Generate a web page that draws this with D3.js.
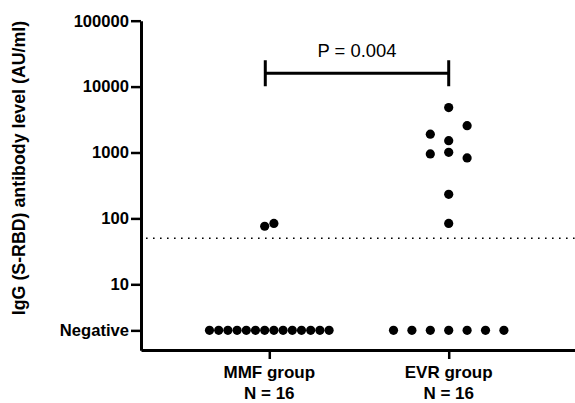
<!DOCTYPE html>
<html>
<head>
<meta charset="utf-8">
<script src="https://cdn.jsdelivr.net/npm/d3@7"></script>
<style>
  body { margin: 0; background: #fff; }
  svg text { font-family: "Liberation Sans", Arial, sans-serif; }
</style>
</head>
<body>
<div id="chart"></div>
<script>
// chart size
const width = 575;
const height = 403;

// data
const groups = ["MMF group", "EVR group"];
const groupN = ["N = 16", "N = 16"];
const negativeValue = 2;   // "Negative" results drawn at this level
const cutoff = 50;         // dotted positivity line
const yTicks = [2, 10, 100, 1000, 10000, 100000];
const yTickLabels = ["Negative", "10", "100", "1000", "10000", "100000"];

// antibody values per patient (Negative = 2)
const mmfValues = [76, 84, 2, 2, 2, 2, 2, 2, 2, 2, 2, 2, 2, 2, 2, 2];
const evrValues = [4800, 2550, 1900, 1510, 1007, 950, 826, 232, 84, 2, 2, 2, 2, 2, 2, 2];
// beeswarm slots (in dot widths) as placed in the picture
const mmfSlots = [-0.5, 0.5, -6.5, -5.5, -4.5, -3.5, -2.5, -1.5, -0.5, 0.5, 1.5, 2.5, 3.5, 4.5, 5.5, 6.5];
const evrSlots = [0, 2, -2, 0, 0, -2, 2, 0, 0, -6, -4, -2, 0, 2, 4, 6];

const pText = "P = 0.004";

const svg = d3.select("#chart")
    .append("svg").attr("width", width).attr("height", height);

// scales
const x = d3.scalePoint()
    .domain(groups)
    .range([141, 577])
    .padding(0.715);

const y = d3.scaleLog()
    .domain([1, 100000])
    .range([350.2, 20.7]);

const slot = d3.scaleLinear().domain([0, 1]).range([0, 9.2]);

// y axis
const yAxis = svg.append("g")
    .attr("transform", "translate(141,0)")
    .call(d3.axisLeft(y)
        .tickValues(yTicks)
        .tickFormat((d, i) => yTickLabels[i])
        .tickSize(10)
        .tickSizeOuter(0)
        .tickPadding(2));

yAxis.select(".domain").attr("stroke-width", 3);
yAxis.selectAll(".tick line").attr("stroke-width", 2.5);
yAxis.selectAll(".tick text")
    .attr("font-size", 16.6)
    .attr("font-weight", "bold")
    .attr("fill", "#000");

// x axis
const xAxis = svg.append("g")
    .attr("transform", "translate(0,350)")
    .call(d3.axisBottom(x)
        .tickSize(9)
        .tickSizeOuter(0)
        .tickFormat(""));

xAxis.select(".domain").attr("stroke-width", 3);
xAxis.selectAll(".tick line").attr("stroke-width", 2.5);

// group labels
const labels = svg.append("g");
labels.selectAll("text.grp")
    .data(groups)
    .join("text")
    .attr("class", "grp")
    .attr("x", d => x(d))
    .attr("y", 378)
    .attr("text-anchor", "middle")
    .attr("font-size", 17)
    .attr("font-weight", "bold")
    .text(d => d);

labels.selectAll("text.n")
    .data(groupN)
    .join("text")
    .attr("class", "n")
    .attr("x", (d, i) => x(groups[i]))
    .attr("y", 399)
    .attr("text-anchor", "middle")
    .attr("font-size", 17)
    .attr("font-weight", "bold")
    .text(d => d);

// y axis title
svg.append("text")
    .attr("transform", "translate(25,168) rotate(-90)")
    .attr("text-anchor", "middle")
    .attr("font-size", 17.8)
    .attr("font-weight", "bold")
    .text("IgG (S-RBD) antibody level (AU/ml)");

// dotted cutoff line
svg.append("line")
    .attr("x1", 146)
    .attr("x2", width)
    .attr("y1", y(cutoff))
    .attr("y2", y(cutoff))
    .attr("stroke", "#000")
    .attr("stroke-width", 1.6)
    .attr("stroke-dasharray", "1.6,5.4");

// points
const points = [];
mmfValues.forEach((v, i) => points.push({ g: groups[0], v: v, s: mmfSlots[i] }));
evrValues.forEach((v, i) => points.push({ g: groups[1], v: v, s: evrSlots[i] }));

svg.append("g")
    .selectAll("circle")
    .data(points)
    .join("circle")
    .attr("cx", d => x(d.g) + slot(d.s))
    .attr("cy", d => y(d.v))
    .attr("r", 4.6)
    .attr("fill", "#000");

// significance bracket
const bx1 = x(groups[0]) - 4;
const bx2 = x(groups[1]);
const by = 73.3;

svg.append("path")
    .attr("d", `M${bx1},${by - 13}V${by + 13}M${bx1},${by}H${bx2}M${bx2},${by - 13}V${by + 13}`)
    .attr("fill", "none")
    .attr("stroke", "#000")
    .attr("stroke-width", 3);

svg.append("text")
    .attr("x", (bx1 + bx2) / 2)
    .attr("y", 57)
    .attr("text-anchor", "middle")
    .attr("font-size", 18.4)
    .text(pText);
</script>
</body>
</html>
